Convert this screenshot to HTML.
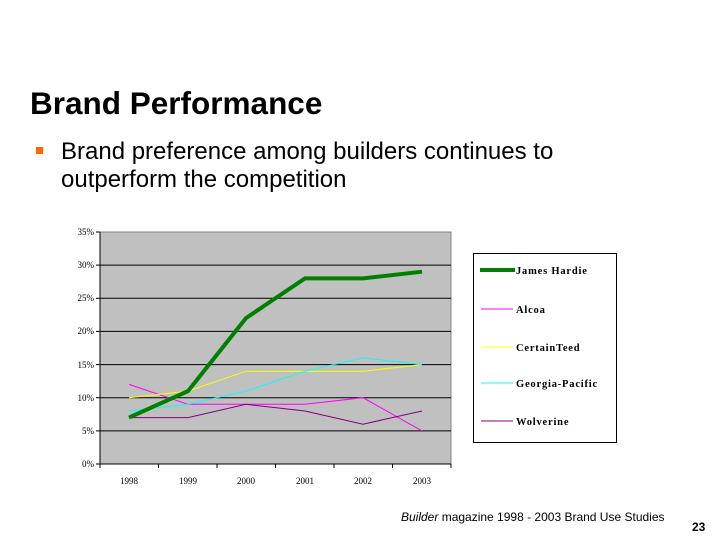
<!DOCTYPE html>
<html><head><meta charset="utf-8"><style>
body{margin:0;width:720px;height:540px;background:#fff;position:relative;overflow:hidden;font-family:"Liberation Sans",sans-serif}
.t{position:absolute;left:30px;top:85px;font-size:31.5px;font-weight:bold;color:#000}
.b{position:absolute;left:36px;top:147px;width:7px;height:7px;background:#f60}
.p{position:absolute;left:61px;top:138px;font-size:24px;line-height:28px;color:#000}
.s{position:absolute;left:401px;top:510px;font-size:12px}
.n{position:absolute;left:692px;top:520px;font-size:12px;font-weight:bold}
</style></head><body>
<div class="t">Brand Performance</div>
<div class="b"></div>
<div class="p">Brand preference among builders continues to<br>outperform the competition</div>
<svg width="720" height="540" style="position:absolute;left:0;top:0" font-family="Liberation Serif, serif" font-size="9">
<rect x="100" y="232" width="351" height="232" fill="#c0c0c0" stroke="#808080"/>
<g stroke="#000" stroke-width="1">
<line x1="100" y1="430.9" x2="451" y2="430.9"/><line x1="100" y1="397.7" x2="451" y2="397.7"/>
<line x1="100" y1="364.6" x2="451" y2="364.6"/><line x1="100" y1="331.4" x2="451" y2="331.4"/>
<line x1="100" y1="298.3" x2="451" y2="298.3"/><line x1="100" y1="265.1" x2="451" y2="265.1"/>
<line x1="100" y1="232" x2="100" y2="468"/><line x1="96" y1="464" x2="451" y2="464"/>
<line x1="96" y1="232" x2="100" y2="232"/><line x1="96" y1="265.1" x2="100" y2="265.1"/><line x1="96" y1="298.3" x2="100" y2="298.3"/><line x1="96" y1="331.4" x2="100" y2="331.4"/><line x1="96" y1="364.6" x2="100" y2="364.6"/><line x1="96" y1="397.7" x2="100" y2="397.7"/><line x1="96" y1="430.9" x2="100" y2="430.9"/>
<line x1="158.5" y1="464" x2="158.5" y2="468"/><line x1="217" y1="464" x2="217" y2="468"/><line x1="275.5" y1="464" x2="275.5" y2="468"/><line x1="334" y1="464" x2="334" y2="468"/><line x1="392.5" y1="464" x2="392.5" y2="468"/><line x1="451" y1="464" x2="451" y2="468"/>
</g>
<g text-anchor="end">
<text x="94" y="235">35%</text><text x="94" y="268">30%</text><text x="94" y="301">25%</text><text x="94" y="334">20%</text><text x="94" y="368">15%</text><text x="94" y="401">10%</text><text x="94" y="434">5%</text><text x="94" y="467">0%</text>
</g>
<g text-anchor="middle">
<text x="129" y="484">1998</text><text x="188" y="484">1999</text><text x="246" y="484">2000</text><text x="305" y="484">2001</text><text x="363" y="484">2002</text><text x="422" y="484">2003</text>
</g>
<g fill="none">
<polyline points="129,384.4 188,404.3 246,404.3 305,404.3 363,397.7 422,430.9" stroke="#f0f" stroke-width="1"/>
<polyline points="129,397.7 188,391.1 246,371.2 305,371.2 363,371.2 422,364.6" stroke="#ff0" stroke-width="1"/>
<polyline points="129,411 188,404.3 246,391.1 305,371.2 363,357.9 422,364.6" stroke="#0ff" stroke-width="1"/>
<polyline points="129,417.6 188,417.6 246,404.3 305,411 363,424.2 422,411" stroke="#800080" stroke-width="1"/>
<polyline points="129,417.6 188,391.1 246,318.1 305,278.4 363,278.4 422,271.7" stroke="#008000" stroke-width="4"/>
</g>
<rect x="473.5" y="253.5" width="143" height="189" fill="#fff" stroke="#000"/>
<g stroke-width="1">
<line x1="480" y1="270" x2="515" y2="270" stroke="#008000" stroke-width="4"/>
<line x1="481" y1="309" x2="513" y2="309" stroke="#f0f"/>
<line x1="481" y1="347" x2="513" y2="347" stroke="#ff0"/>
<line x1="481" y1="383" x2="513" y2="383" stroke="#0ff"/>
<line x1="481" y1="421" x2="513" y2="421" stroke="#800080"/>
</g>
<g font-weight="bold" font-size="10.5" letter-spacing="0.8">
<text x="516" y="274">James Hardie</text><text x="516" y="313">Alcoa</text><text x="516" y="351">CertainTeed</text><text x="516" y="387">Georgia-Pacific</text><text x="516" y="425">Wolverine</text>
</g>
</svg>
<div class="s"><i>Builder</i> magazine 1998 - 2003 Brand Use Studies</div>
<div class="n">23</div>
</body></html>
